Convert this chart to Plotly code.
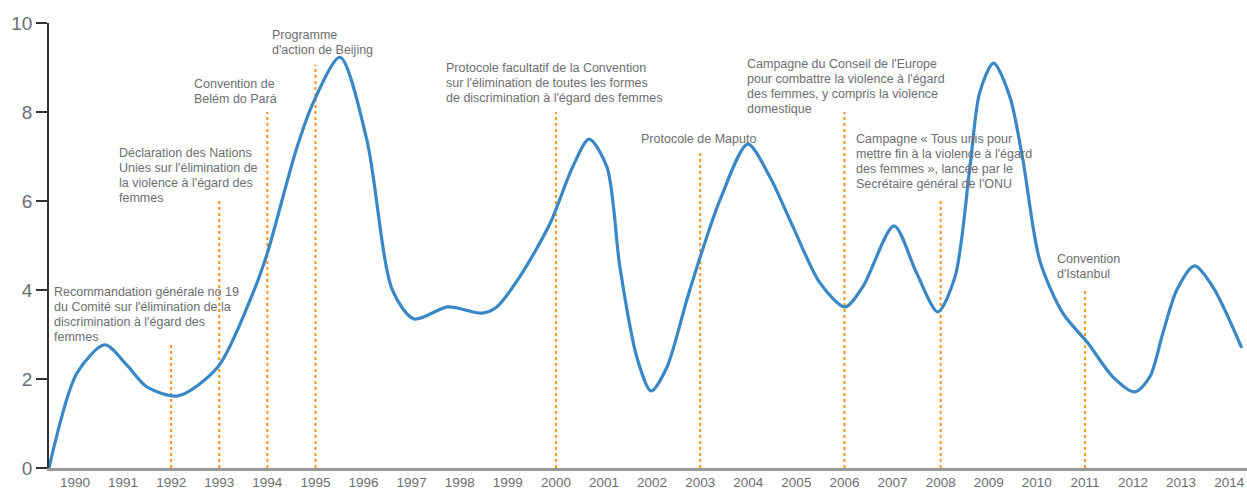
import plotly.graph_objects as go

# Curve data (year position, value)
curve_x = [1989.46, 1990.04, 1990.62, 1991.08, 1991.5, 1992.14, 1992.97, 1993.7, 1994.0, 1994.6,
           1994.95, 1995.51, 1996.07, 1996.6, 1997.05, 1997.75, 1998.46, 1998.77, 1999.25, 1999.88,
           2000.35, 2000.69, 2001.06, 2001.33, 2001.68, 2001.98, 2002.31, 2002.72, 2003.0, 2003.41,
           2003.99, 2004.45, 2004.93, 2005.49, 2006.01, 2006.38, 2007.03, 2007.5, 2007.94, 2008.3,
           2008.61, 2008.81, 2009.1, 2009.44, 2009.71, 2010.06, 2010.54, 2011.06, 2011.58, 2012.04,
           2012.35, 2012.62, 2012.91, 2013.28, 2013.66, 2014.26]
curve_y = [0, 2.13, 2.77, 2.31, 1.82, 1.62, 2.27, 3.93, 4.83, 7.15,
           8.2, 9.23, 7.37, 4.0, 3.35, 3.62, 3.48, 3.62, 4.3, 5.5,
           6.77, 7.39, 6.77, 4.52, 2.5, 1.73, 2.27, 3.77, 4.74, 6.02,
           7.28, 6.54, 5.42, 4.16, 3.62, 4.07, 5.44, 4.38, 3.51, 4.3,
           6.77, 8.43, 9.1, 8.34, 6.92, 4.67, 3.48, 2.81, 2.05, 1.71,
           2.05, 3.03, 4.0, 4.54, 4.07, 2.7]

years = list(range(1990, 2015))
year_labels = [str(y) for y in years]
y_ticks = [0, 2, 4, 6, 8, 10]

# Events: year of marker, marker height, label lines
event_years = [1992, 1993, 1994, 1995, 2000, 2003, 2006, 2008, 2011]
event_heights = [2.83, 6.0, 8.0, 9.06, 8.0, 7.08, 8.0, 6.0, 4.0]
event_labels = [
    ["Recommandation générale no 19", "du Comité sur l'élimination de la",
     "discrimination à l'égard des", "femmes"],
    ["Déclaration des Nations", "Unies sur l'élimination de",
     "la violence à l'égard des", "femmes"],
    ["Convention de", "Belém do Pará"],
    ["Programme", "d'action de Beijing"],
    ["Protocole facultatif de la Convention", "sur l'élimination de toutes les formes",
     "de discrimination à l'égard des femmes"],
    ["Protocole de Maputo"],
    ["Campagne du Conseil de l'Europe", "pour combattre la violence à l'égard",
     "des femmes, y compris la violence", "domestique"],
    ["Campagne « Tous unis pour", "mettre fin à la violence à l'égard",
     "des femmes », lancée par le", "Secrétaire général de l'ONU"],
    ["Convention", "d'Istanbul"],
]
# label placement (left x in years, first-line y in values)
label_x = [1989.52, 1990.88, 1992.44, 1994.06, 1997.68, 2001.73, 2003.94, 2006.2, 2010.38]
label_y = [3.955, 7.08, 8.63, 9.73, 8.99, 7.39, 9.08, 7.39, 4.70]
line_step = 0.337

FONT = "Liberation Sans Narrow, Liberation Sans, Arial, sans-serif"
TEXT_COL = "#6d6e71"

fig = go.Figure()

for ex, eh in zip(event_years, event_heights):
    fig.add_trace(go.Scatter(x=[ex, ex], y=[0, eh], mode="lines",
                             line=dict(color="#f7941d", width=2, dash="dot"),
                             hoverinfo="skip", showlegend=False))

fig.add_trace(go.Scatter(x=curve_x, y=curve_y, mode="lines",
                         line=dict(color="#3a87c6", width=3.2, shape="spline", smoothing=0.8),
                         showlegend=False))

for lx, ly, lines in zip(label_x, label_y, event_labels):
    for i, t in enumerate(lines):
        fig.add_annotation(x=lx, y=ly - i * line_step, xref="x", yref="y", text=t,
                           showarrow=False, xanchor="left", yanchor="middle",
                           font=dict(family=FONT, size=12.5, color=TEXT_COL))

fig.update_layout(
    width=1247, height=494,
    margin=dict(l=49, r=0, t=23, b=26),
    paper_bgcolor="white", plot_bgcolor="white",
    font=dict(family=FONT, color=TEXT_COL),
)
fig.update_xaxes(range=[1989.46, 2014.37], tickvals=years, ticktext=year_labels,
                 showgrid=False, zeroline=False, showline=True, linecolor="#999999",
                 linewidth=2.5, ticks="", tickfont=dict(family=FONT, size=13.5, color=TEXT_COL))
fig.update_yaxes(range=[0, 10], tickvals=y_ticks, showgrid=False, zeroline=False,
                 showline=True, linecolor="#333333", linewidth=1.5, ticks="outside",
                 ticklen=11, tickcolor="#333333", tickwidth=1.5,
                 tickfont=dict(family=FONT, size=19, color=TEXT_COL))

fig.write_html("out.html", config={"displayModeBar": False},
               post_script="document.body.style.margin='0';")
